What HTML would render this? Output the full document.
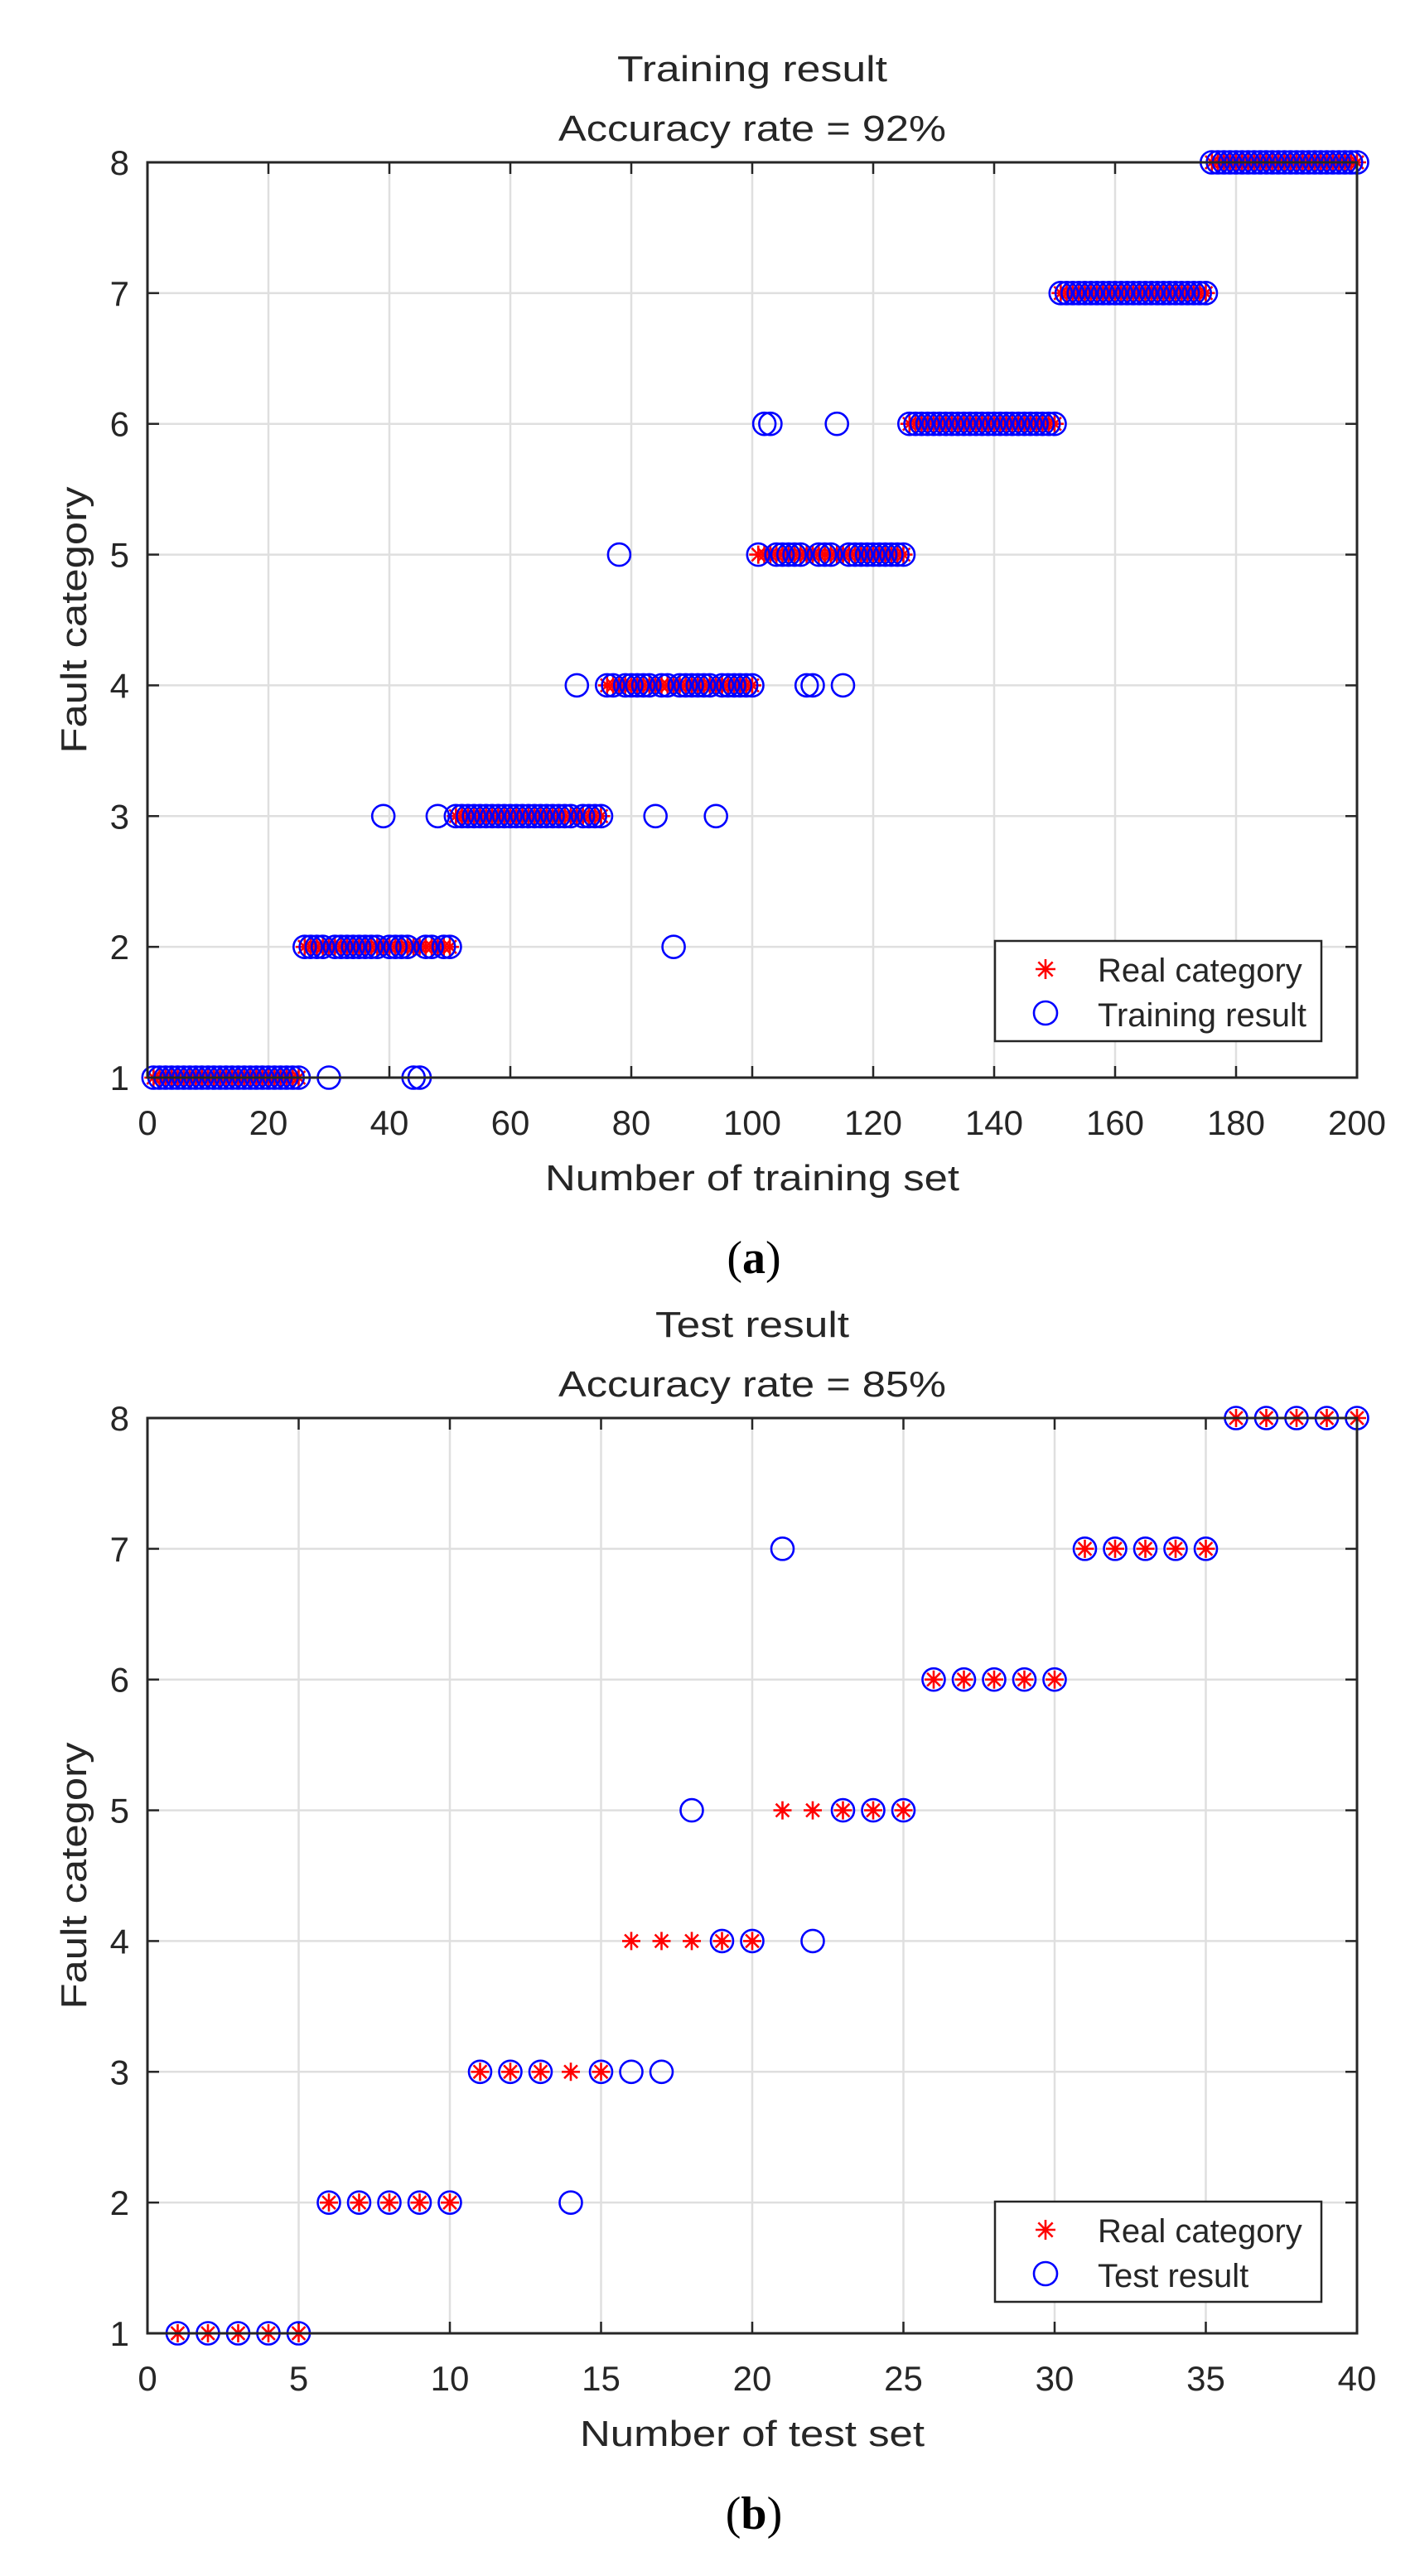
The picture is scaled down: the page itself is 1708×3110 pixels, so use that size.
<!DOCTYPE html>
<html><head><meta charset="utf-8"><style>
html,body{margin:0;padding:0;background:#fff;}
svg{display:block;}
text{font-family:"Liberation Sans",sans-serif;fill:#262626;}
</style></head><body>
<svg id="fig" width="1708" height="3110" viewBox="0 0 1708 3110" xmlns="http://www.w3.org/2000/svg"></svg>
<script>
// ---- Data: training (a) ----
const trainReal = [
1,1,1,1,1,1,1,1,1,1,1,1,1,1,1,1,1,1,1,1,1,1,1,1,1,
2,2,2,2,2,2,2,2,2,2,2,2,2,2,2,2,2,2,2,2,2,2,2,2,2,
3,3,3,3,3,3,3,3,3,3,3,3,3,3,3,3,3,3,3,3,3,3,3,3,3,
4,4,4,4,4,4,4,4,4,4,4,4,4,4,4,4,4,4,4,4,4,4,4,4,4,
5,5,5,5,5,5,5,5,5,5,5,5,5,5,5,5,5,5,5,5,5,5,5,5,5,
6,6,6,6,6,6,6,6,6,6,6,6,6,6,6,6,6,6,6,6,6,6,6,6,6,
7,7,7,7,7,7,7,7,7,7,7,7,7,7,7,7,7,7,7,7,7,7,7,7,7,
8,8,8,8,8,8,8,8,8,8,8,8,8,8,8,8,8,8,8,8,8,8,8,8,8];
const trainPred = [
1,1,1,1,1,1,1,1,1,1,1,1,1,1,1,1,1,1,1,1,1,1,1,1,1,
2,2,2,2,1,2,2,2,2,2,2,2,2,3,2,2,2,2,1,1,2,2,3,2,2,
3,3,3,3,3,3,3,3,3,3,3,3,3,3,3,3,3,3,3,3,4,3,3,3,3,
4,4,5,4,4,4,4,4,3,4,4,2,4,4,4,4,4,4,3,4,4,4,4,4,4,
5,6,6,5,5,5,5,5,4,4,5,5,5,6,4,5,5,5,5,5,5,5,5,5,5,
6,6,6,6,6,6,6,6,6,6,6,6,6,6,6,6,6,6,6,6,6,6,6,6,6,
7,7,7,7,7,7,7,7,7,7,7,7,7,7,7,7,7,7,7,7,7,7,7,7,7,
8,8,8,8,8,8,8,8,8,8,8,8,8,8,8,8,8,8,8,8,8,8,8,8,8];
const trainXTicks = [0,20,40,60,80,100,120,140,160,180,200];
// ---- Data: test (b) ----
const testReal = [1,1,1,1,1,2,2,2,2,2,3,3,3,3,3,4,4,4,4,4,5,5,5,5,5,6,6,6,6,6,7,7,7,7,7,8,8,8,8,8];
const testPred = [1,1,1,1,1,2,2,2,2,2,3,3,3,2,3,3,3,5,4,4,7,4,5,5,5,6,6,6,6,6,7,7,7,7,7,8,8,8,8,8];
const testXTicks = [0,5,10,15,20,25,30,35,40];
const yTicks = [1,2,3,4,5,6,7,8];

const NS = "http://www.w3.org/2000/svg";
const svg = document.getElementById('fig');
function mk(tag, attrs, parent){
  const e = document.createElementNS(NS, tag);
  for (const k in attrs) e.setAttribute(k, attrs[k]);
  (parent||svg).appendChild(e);
  return e;
}
function txt(s, attrs, parent){ const e = mk('text', attrs, parent); e.textContent = s; return e; }

function star(g, cx, cy, s){
  return mk('path', {d:
    `M${cx-s},${cy}H${cx+s}M${cx},${cy-s}V${cy+s}M${cx-s*0.72},${cy-s*0.72}L${cx+s*0.72},${cy+s*0.72}M${cx-s*0.72},${cy+s*0.72}L${cx+s*0.72},${cy-s*0.72}`,
    stroke:'#ff0000','stroke-width':2.6,fill:'none'}, g);
}

function drawPanel(opt){
  const L=178, R=1638, T=opt.top, B=opt.top+1105;
  const g = mk('g', {});
  
  
  const xS = v => L + (v - opt.xmin)/(opt.xmax-opt.xmin)*(R-L);
  const yS = v => B - (v - 1)/7*(B-T);
  opt.xticks.forEach(t=>{
    const l = mk('line',{x1:xS(t),x2:xS(t),y1:T,y2:B,stroke:'#dfdfdf','stroke-width':2.5},g);
    
    
  });
  yTicks.forEach(t=>{
    const l = mk('line',{x1:L,x2:R,y1:yS(t),y2:yS(t),stroke:'#dfdfdf','stroke-width':2.5},g);
    
    
  });
  opt.xticks.forEach(t=>{
    mk('line',{x1:xS(t),x2:xS(t),y1:B,y2:B-14,stroke:'#262626','stroke-width':2.5},g);
    mk('line',{x1:xS(t),x2:xS(t),y1:T,y2:T+14,stroke:'#262626','stroke-width':2.5},g);
    const tl = txt(String(t),{x:xS(t),y:B+69,'font-size':42,'text-anchor':'middle'},g);
    
    
  });
  yTicks.forEach(t=>{
    mk('line',{x1:L,x2:L+14,y1:yS(t),y2:yS(t),stroke:'#262626','stroke-width':2.5},g);
    mk('line',{x1:R,x2:R-14,y1:yS(t),y2:yS(t),stroke:'#262626','stroke-width':2.5},g);
    const tl = txt(String(t),{x:L-22,y:yS(t)+15,'font-size':42,'text-anchor':'end'},g);
    
    
  });
  const series = mk('g',{},g);
  
  
  opt.real.forEach((v,i)=>{
    const s = star(series, xS(i+1), yS(v), 11);
    
    
  });
  const series2 = mk('g',{},g);
  
  
  opt.pred.forEach((v,i)=>{
    const c = mk('circle',{cx:xS(i+1),cy:yS(v),r:13.5,fill:'none',stroke:'#0000ff','stroke-width':2.6},series2);
    
    
  });
  const box = mk('rect',{x:L,y:T,width:R-L,height:B-T,fill:'none',stroke:'#262626','stroke-width':3},g);
  
  
  const t1 = txt(opt.title,{x:(L+R)/2,y:T-98,'font-size':44,'text-anchor':'middle',fill:'#000',textLength:opt.titleW,lengthAdjust:'spacingAndGlyphs'},g);
  
  
  const t2 = txt(opt.acc,{x:(L+R)/2,y:T-26,'font-size':44,'text-anchor':'middle',fill:'#000',textLength:468,lengthAdjust:'spacingAndGlyphs'},g);
  
  
  const xl = txt(opt.xlabel,{x:(L+R)/2,y:B+136,'font-size':44,'text-anchor':'middle',textLength:opt.xlabelW,lengthAdjust:'spacingAndGlyphs'},g);
  
  
  const yl = txt('Fault category',{x:0,y:0,'font-size':44,'text-anchor':'middle',textLength:322,lengthAdjust:'spacingAndGlyphs',transform:`translate(104,${(T+B)/2}) rotate(-90)`},g);
  
  
  const lt = opt.legTop;
  const lg = mk('g',{},g);
  
  
  mk('rect',{x:1201,y:lt,width:394,height:121,fill:'#fff',stroke:'#262626','stroke-width':2.5},lg);
  const s1 = star(lg, 1262, lt+34, 12);
  
  
  const e1 = txt('Real category',{x:1325,y:lt+49,'font-size':40,fill:'#000'},lg);
  
  
  const c1 = mk('circle',{cx:1262,cy:lt+87,r:14,fill:'none',stroke:'#0000ff','stroke-width':2.6},lg);
  
  
  const e2 = txt(opt.legend2,{x:1325,y:lt+103,'font-size':40,fill:'#000'},lg);
  
  
  const pl = mk('text',{x:(L+R)/2+2,y:B+236,'text-anchor':'middle',style:'font-family:"Liberation Serif",serif;font-size:56px;fill:#000'},g);
  
  
  pl.appendChild(document.createTextNode('('));
  const b = mk('tspan',{style:'font-weight:bold'},pl);
  b.textContent = opt.label;
  pl.appendChild(document.createTextNode(')'));
}

drawPanel({name:'training-chart',top:196,xmin:0,xmax:200,xticks:trainXTicks,real:trainReal,pred:trainPred,
  title:'Training result',titleW:326,acc:'Accuracy rate = 92%',xlabel:'Number of training set',xlabelW:500,legend2:'Training result',legTop:1136,label:'a'});
drawPanel({name:'test-chart',top:1712,xmin:0,xmax:40,xticks:testXTicks,real:testReal,pred:testPred,
  title:'Test result',titleW:234,acc:'Accuracy rate = 85%',xlabel:'Number of test set',xlabelW:416,legend2:'Test result',legTop:2658,label:'b'});
</script>
</body></html>
